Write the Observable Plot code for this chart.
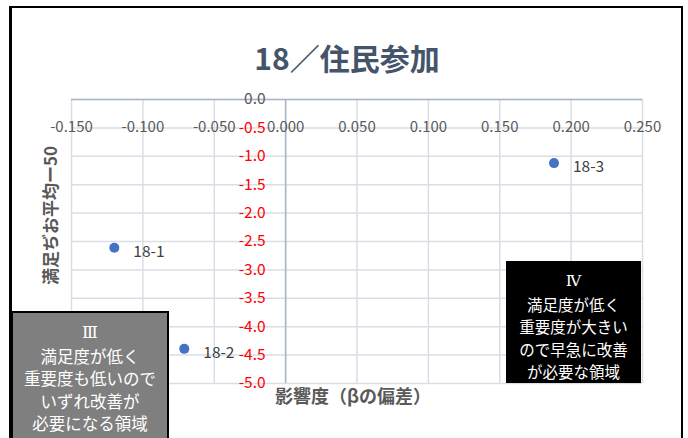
<!DOCTYPE html>
<html>
<head>
<meta charset="utf-8">
<script src="https://cdn.jsdelivr.net/npm/d3@7"></script>
<script src="https://cdn.jsdelivr.net/npm/@observablehq/plot@0.6"></script>
<style>
  html, body { margin: 0; padding: 0; background: #fff; }
  #wrap { position: relative; width: 688px; height: 438px; overflow: hidden; font-family: "Noto Sans CJK JP", sans-serif; }
  #border { position: absolute; left: 9px; top: 6px; width: 674px; height: 480px; border: 2px solid #000; border-left-width: 3px; box-sizing: border-box; }
  #chart { position: absolute; left: 0; top: 0; }
  .qbox { position: absolute; color: #fff; text-align: center; box-sizing: border-box; line-height: 22.5px; }
  .qbox .num { font-family: "DejaVu Serif", "Liberation Serif", serif; }
  #q3 { left: 11px; top: 311px; width: 158px; height: 140px; background: #7f7f7f; border: 2px solid #000; padding-top: 9px; font-size: 16.5px; }
  #q4 { left: 506px; top: 261px; width: 135px; height: 122px; background: #000; padding-top: 9px; font-size: 15.5px; }
</style>
</head>
<body>
<div id="wrap">
  <div id="border"></div>
  <div id="chart"></div>
  <div class="qbox" id="q3"></div>
  <div class="qbox" id="q4"></div>
</div>
<script>
// Data
const labels = ["18-1", "18-2", "18-3"];
const influence = [-0.12, -0.071, 0.188];      // 影響度（βの偏差）
const satisfaction = [-2.61, -4.39, -1.12];    // 満足度平均−50
const xTicks = [-0.15, -0.1, -0.05, 0, 0.05, 0.1, 0.15, 0.2, 0.25];
const yTicks = [0, -0.5, -1, -1.5, -2, -2.5, -3, -3.5, -4, -4.5, -5];
const titleText = "18／住民参加";
const xTitle = "影響度（βの偏差）";
const yTitle = "満足ぢお平均ー50";
const q3Lines = ["Ⅲ", "満足度が低く", "重要度も低いので", "いずれ改善が", "必要になる領域"];
const q4Lines = ["Ⅳ", "満足度が低く", "重要度が大きい", "ので早急に改善", "が必要な領域"];

const points = labels.map((l, i) => ({label: l, x: influence[i], y: satisfaction[i]}));
const fmtX = d => d3.format(".3f")(d).replace("−", "-");
const fmtY = d => d3.format(".1f")(Math.abs(d) < 1e-9 ? 0 : d).replace("−", "-");

const chart = Plot.plot({
  width: 688,
  height: 438,
  marginLeft: 71,
  marginRight: 46,
  marginTop: 99,
  marginBottom: 55,
  x: {domain: [-0.15, 0.25], axis: null},
  y: {domain: [-5, 0], axis: null},
  style: {fontFamily: "'Noto Sans CJK JP', sans-serif", background: "transparent", overflow: "visible"},
  marks: [
    Plot.gridX(xTicks, {stroke: "#d9dee6", strokeOpacity: 1, strokeWidth: 1.5}),
    Plot.gridY(yTicks, {stroke: "#d9dee6", strokeOpacity: 1, strokeWidth: 1.5}),
    Plot.ruleX([0], {stroke: "#aab6c8", strokeWidth: 1.5}),
    Plot.ruleY([0], {stroke: "#aab6c8", strokeWidth: 1.5}),
    Plot.text(xTicks, {x: d => d, y: 0, dy: 28, text: fmtX, fill: "#595959", fontSize: 15}),
    Plot.text(yTicks, {x: 0, y: d => d, dx: -20, text: fmtY, textAnchor: "end", fontSize: 15.5,
      fill: d => d === 0 ? "#595959" : "#ff0000"}),
    Plot.dot(points, {x: "x", y: "y", r: 5, fill: "#4472c4", stroke: null}),
    Plot.text(points, {x: "x", y: "y", text: "label", dx: 19, dy: 4, textAnchor: "start", fill: "#404040", fontSize: 15.5}),
    Plot.text([titleText], {frameAnchor: "top", text: d => d, dy: -51, dx: -10, fontSize: 30, fontWeight: "bold", fill: "#44546a"}),
    Plot.text([xTitle], {frameAnchor: "bottom", text: d => d, dy: 19, dx: -4, fontSize: 18, fontWeight: "bold", fill: "#595959"}),
    Plot.text([yTitle], {frameAnchor: "left", text: d => d, textAnchor: "middle", rotate: -90, dx: -20, dy: -26, fontSize: 17, fontWeight: "bold", fill: "#595959"})
  ]
});
document.getElementById("chart").appendChild(chart);
document.getElementById("q3").innerHTML = q3Lines.map((t, i) => `<div class="${i === 0 ? "num" : ""}">${t}</div>`).join("");
document.getElementById("q4").innerHTML = q4Lines.map((t, i) => `<div class="${i === 0 ? "num" : ""}">${t}</div>`).join("");
</script>
</body>
</html>
